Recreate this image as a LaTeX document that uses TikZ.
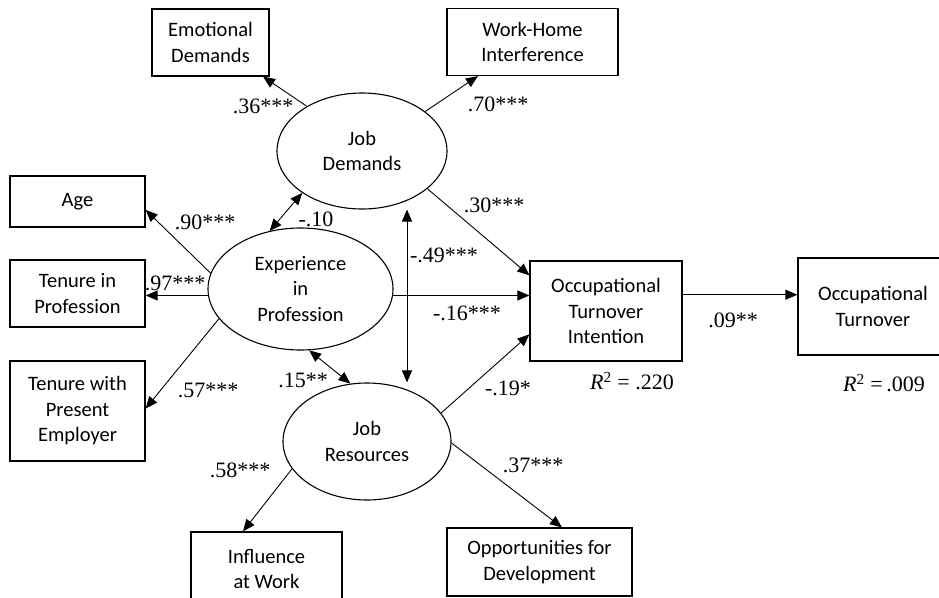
\documentclass[tikz,border=0pt]{standalone}
\usepackage{fontspec}
\setmainfont{Liberation Serif}
\newfontfamily\calibri{Carlito}
\usetikzlibrary{shapes.geometric,arrows.meta}

\begin{document}
\begin{tikzpicture}[x=1pt,y=-1pt,->,>={Triangle[length=12pt,width=10pt]},line width=0.9pt,
                    box/.style={draw,rectangle,align=center,inner sep=0pt,line width=1.2pt,
                                font=\calibri\fontsize{20.5}{25.5}\selectfont},
                    latent/.style={draw,ellipse,align=center,inner sep=0pt,line width=1.1pt,
                                   font=\calibri\fontsize{20.5}{25.5}\selectfont},
                    coef/.style={inner sep=0pt,font=\fontsize{22}{26}\selectfont}]
  \useasboundingbox (0,0) rectangle (939,597);

  % latent factors
  \node[latent,minimum width=170,minimum height=116] (JD) at (362,151)   {Job\\Demands};
  \node[latent,minimum width=185,minimum height=122] (EP) at (300.5,289) {Experience\\in\\Profession};
  \node[latent,minimum width=168,minimum height=117] (JR) at (367,441.5) {Job\\Resources};

  % indicators and outcomes
  \node[box,minimum width=117,minimum height=67]  (ED)  at (210.5,42.5) {Emotional\\Demands};
  \node[box,minimum width=171,minimum height=67]  (WHI) at (532.5,42)   {Work-Home\\Interference};
  \node[box,minimum width=135,minimum height=51]  (AGE) at (77.5,201.5) {Age};
  \node[box,minimum width=135,minimum height=67]  (TIP) at (77.5,293.5) {Tenure in\\Profession};
  \node[box,minimum width=135,minimum height=100] (TPE) at (77.5,411)   {Tenure with\\Present\\Employer};
  \node[box,minimum width=152,minimum height=100] (OTI) at (606,311)    {Occupational\\Turnover\\Intention};
  \node[box,minimum width=150,minimum height=97]  (OT)  at (873,306.5)  {Occupational\\Turnover};
  \node[box,minimum width=151,minimum height=74]  (IAW) at (266.5,569)  {Influence\\at Work};
  \node[box,minimum width=185,minimum height=68]  (OFD) at (539.5,562)  {Opportunities for\\Development};

  \coordinate (vx) at (407,0);

  \path (JD.141) edge (ED.-33)
        (JD.32)  edge (WHI.212)
        (EP.170) edge (AGE.-7)
        (EP.184) edge (TIP.east |- EP.184)
        (EP.200) edge (TPE.2)
        (JD.215) edge[<->] (EP.118)
        (JD.south -| vx) edge[<->] (JR.north -| vx)
        (EP.-82) edge[<->] (JR.106)
        (JD.-30) edge (OTI.155)
        (EP.-4)  edge (OTI.west |- EP.-4)
        (JR.21)  edge (OTI.197)
        (OTI.12) edge (OT.west |- OTI.12)
        (JR.200) edge (IAW.122)
        (JR.-1)  edge (OFD.57);

  % path coefficients
  \node[coef] (cED)  at (263,106) {.36***};
  \node[coef] (cWHI) at (498,104) {.70***};
  \node[coef] (cAGE) at (205,222) {.90***};
  \node[coef] (cTIP) at (175,283) {.97***};
  \node[coef] (cTPE) at (208,390) {.57***};
  \node[coef] (cDE)  at (316,219) {-.10};
  \node[coef] (cER)  at (303,380) {.15**};
  \node[coef] (cDR)  at (444,255) {-.49***};
  \node[coef] (cDO)  at (494,205) {.30***};
  \node[coef] (cEO)  at (467,313) {-.16***};
  \node[coef] (cRO)  at (508,388) {-.19*};
  \node[coef] (cOO)  at (733,320) {.09**};
  \node[coef] (cIAW) at (240,470) {.58***};
  \node[coef] (cOFD) at (533,465) {.37***};

  % explained variance
  \node[coef] (rOTI) at (632,381) {\textit{R}\textsuperscript{2} = .220};
  \node[coef] (rOT)  at (884,383) {\textit{R}\textsuperscript{2} =\,.009};
\end{tikzpicture}
\end{document}
